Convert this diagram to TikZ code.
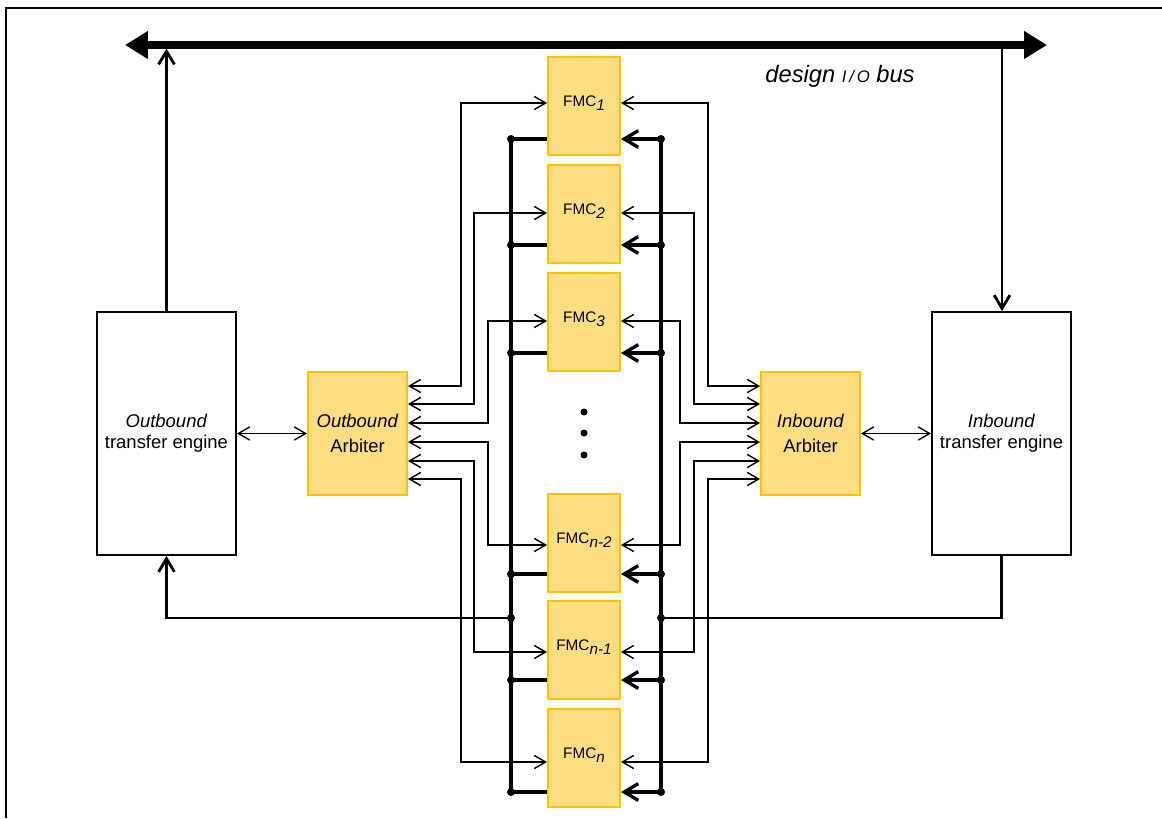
\documentclass[tikz,border=0pt]{standalone}
\usepackage{fontspec}
\setmainfont{Liberation Sans}
\usetikzlibrary{arrows.meta, positioning, calc}
\definecolor{gold}{RGB}{254,222,128}
\definecolor{amber}{RGB}{255,192,0}
\newcommand{\fmcname}[1]{FMC\raisebox{-0.45ex}{\itshape #1}}

\begin{document}
\begin{tikzpicture}[
        x=0.02cm, y=-0.02cm,
        engine/.style={rectangle, draw, line width=1.1pt, minimum width=2.78cm, minimum height=4.86cm, inner sep=0pt, align=center, font=\fontsize{10.5}{12}\selectfont},
        arbiter/.style={rectangle, draw=amber, fill=gold, line width=1.1pt, minimum width=1.98cm, minimum height=2.46cm, inner sep=0pt, align=center, font=\fontsize{10.5}{14.5}\selectfont},
        fmcbox/.style={rectangle, draw=amber, fill=gold, line width=1.1pt, minimum width=1.44cm, inner sep=0pt, text height=1.0cm, text depth=0.96cm, font=\fontsize{8.7}{10}\selectfont},
        link/.style={{Straight Barb[length=6.5pt,width=7.5pt]}-{Straight Barb[length=6.5pt,width=7.5pt]}, line width=0.8pt},
        tap/.style={line width=1.9pt},
        tapin/.style={-{Straight Barb[length=8pt,width=9.5pt]}, line width=1.9pt},
        feed/.style={-{Straight Barb[length=7.5pt,width=9pt]}, line width=1.6pt},
        busline/.style={{Triangle[length=13pt,width=15pt]}-{Triangle[length=13pt,width=15pt]}, line width=4pt}
    ]
        \useasboundingbox (0,0) rectangle (1162,818);
        % page frame
        \draw[line width=1.1pt] (6,818) -- (6,8) -- (1162,8);

        % design bus
        \coordinate (busL) at (125,45);
        \coordinate (busR) at (1047,45);
        \coordinate (tapOut) at (166.5,45);
        \coordinate (tapIn) at (1002,45);
        \draw[busline] (busL) -- (busR);
        \node[font=\fontsize{13.5}{15}\selectfont\itshape] (busname) at (840,76) {design {\fontsize{9.5}{10}\selectfont I\,/\,O} bus};

        \node[engine] (engOut) at (166.5,433.5) {\textit{Outbound}\\transfer engine};
        \node[engine] (engIn) at (1001.5,433.5) {\textit{Inbound}\\transfer engine};
        \node[arbiter] (arbOut) at (357.5,433.5) {\textit{Outbound}\\Arbiter};
        \node[arbiter] (arbIn) at (810.5,433.5) {\textit{Inbound}\\Arbiter};

        \draw[feed] (engOut.north) -- ([yshift=-2pt]tapOut);
        \draw[feed] ([yshift=-2pt]tapIn) -- (tapIn |- engIn.north);
        \draw[link] (engOut) -- (arbOut);
        \draw[link] (arbIn) -- (engIn);

        % FMC side buses
        \coordinate (lbTop) at (511,139);
        \coordinate (lbBot) at (511,792);
        \coordinate (rbTop) at (661,139);
        \coordinate (rbBot) at (661,792);
        \coordinate (lbOut) at (511,618);
        \coordinate (rbIn) at (661,618);
        \draw[tap] (lbTop) -- (lbBot);
        \draw[tap] (rbTop) -- (rbBot);
        \draw[feed] (lbOut) -| (engOut.south);
        \draw[line width=1.6pt] (engIn.south) |- (rbIn);
        \fill (lbOut) circle (0.08cm) (rbIn) circle (0.08cm);

        % the FMCs
        \foreach \i/\yt/\idx/\ysig/\ytap/\ylvl/\xl/\xr in {
            1/56/1/103/139/386/461/708,
            2/164/2/213/245/404/474/694,
            3/272/3/321/353/423/488/680,
            4/493/n-2/545/574/442/488/680,
            5/600/n-1/652/680/461/474/694,
            6/708/n/762/792/479/461/708}
        {
            \node[fmcbox, anchor=north] (fmc\i) at (584,\yt) {\fmcname{\idx}};
            \draw[link] (arbOut.east |- 0,\ylvl) -| (\xl,\ysig) -- (fmc\i.west |- 0,\ysig);
            \draw[link] (fmc\i.east |- 0,\ysig) -- (\xr,\ysig) |- (arbIn.west |- 0,\ylvl);
            \draw[tap] (fmc\i.west |- 0,\ytap) -- (lbTop |- 0,\ytap);
            \draw[tapin] (rbTop |- 0,\ytap) -- (fmc\i.east |- 0,\ytap);
            \fill (lbTop |- 0,\ytap) circle (0.08cm) (rbTop |- 0,\ytap) circle (0.08cm);
        }

        % more FMCs
        \fill (584,412) circle (0.07cm) (584,433) circle (0.07cm) (584,455) circle (0.07cm);
    \end{tikzpicture}
\end{document}
